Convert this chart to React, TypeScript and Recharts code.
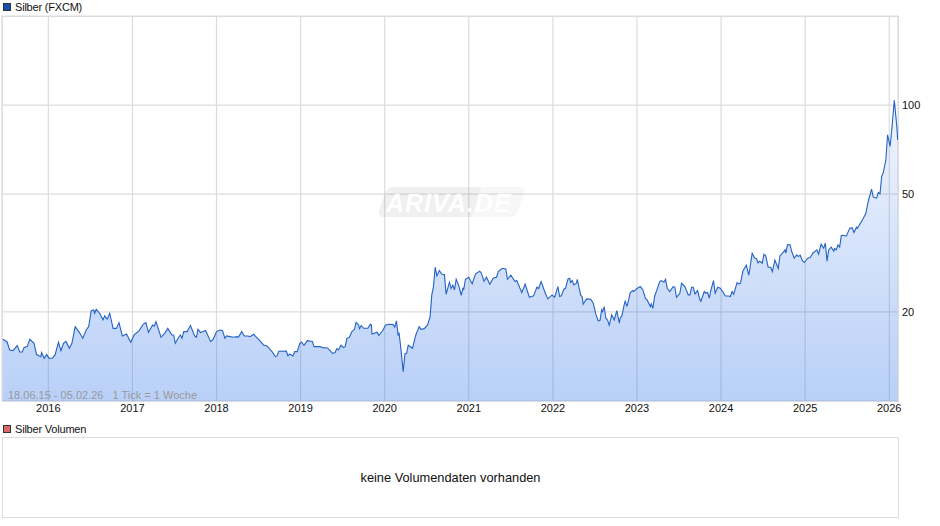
import React from 'react';
import { AreaChart, Area, XAxis, YAxis, CartesianGrid } from 'recharts';

// readings of the weekly line, as decimal years and prices
const yearsEarly = [
  2015.46, 2015.51, 2015.54, 2015.58, 2015.63, 2015.66, 2015.69, 2015.71, 2015.75, 2015.78,
  2015.83, 2015.86, 2015.91, 2015.92, 2015.95, 2015.98, 2016.01, 2016.05, 2016.08, 2016.12,
  2016.15, 2016.18, 2016.21, 2016.25, 2016.28, 2016.32, 2016.37, 2016.41, 2016.45, 2016.48,
  2016.51, 2016.54, 2016.55, 2016.57, 2016.61, 2016.65, 2016.67, 2016.7, 2016.73, 2016.77,
  2016.81, 2016.84, 2016.88, 2016.93, 2016.98, 2017.02, 2017.08, 2017.13, 2017.16, 2017.19,
  2017.24, 2017.26, 2017.28, 2017.34, 2017.39, 2017.42, 2017.47, 2017.49, 2017.51, 2017.55,
  2017.57, 2017.59, 2017.61, 2017.65, 2017.69, 2017.74, 2017.76, 2017.78, 2017.81, 2017.84,
  2017.87, 2017.93, 2017.96, 2018.0, 2018.04, 2018.07, 2018.1, 2018.12, 2018.16, 2018.2,
  2018.24, 2018.26, 2018.3, 2018.33, 2018.37, 2018.4, 2018.44, 2018.5, 2018.56, 2018.6,
  2018.66, 2018.7, 2018.72, 2018.74, 2018.83, 2018.85, 2018.87, 2018.91, 2018.93, 2018.96,
  2018.99, 2019.01, 2019.04, 2019.08, 2019.14, 2019.16,
];
const pricesEarly = [
  16.16, 15.83, 14.88, 14.8, 15.39, 14.65, 14.65, 15.15, 15.3, 16.16,
  15.67, 14.35, 14.12, 14.57, 13.94, 14.35, 13.94, 13.98, 14.31, 15.79,
  14.8, 15.67, 15.9, 15.07, 15.67, 17.84, 17.03, 16.29, 17.38, 17.84,
  20.2, 20.3, 19.8, 20.4, 19.8, 18.8, 19.4, 18.9, 19.8, 17.6,
  17.6, 18.4, 16.59, 16.85, 15.79, 16.72, 17.3, 18.2, 18.4, 17.07,
  18.07, 17.9, 18.55, 16.42, 17.03, 17.6, 16.72, 16.72, 15.67, 16.42,
  16.72, 16.29, 17.16, 17.16, 17.98, 16.59, 16.42, 17.47, 17.03, 17.16,
  17.3, 15.87, 16.16, 17.16, 17.38, 17.3, 16.29, 16.59, 16.5, 16.42,
  16.5, 16.42, 17.16, 16.59, 16.59, 16.5, 16.8, 16.16, 15.47, 15.35,
  14.68, 14.12, 14.2, 14.72, 14.76, 14.2, 14.42, 14.2, 14.68, 14.68,
  15.67, 15.83, 15.43, 16.0, 15.9, 15.27,
];

const yearsMiddle = [
  2019.23, 2019.26, 2019.32, 2019.38, 2019.41, 2019.43, 2019.45, 2019.48, 2019.51, 2019.53,
  2019.55, 2019.58, 2019.61, 2019.64, 2019.66, 2019.69, 2019.7, 2019.72, 2019.75, 2019.8,
  2019.83, 2019.84, 2019.85, 2019.91, 2019.93, 2019.98, 2020.01, 2020.06, 2020.1, 2020.12,
  2020.14, 2020.16, 2020.17, 2020.19, 2020.22, 2020.24, 2020.26, 2020.28, 2020.33, 2020.37,
  2020.41, 2020.43, 2020.47, 2020.51, 2020.54, 2020.56, 2020.58, 2020.6, 2020.62, 2020.65,
  2020.68, 2020.71, 2020.73, 2020.77, 2020.79, 2020.81, 2020.83, 2020.85, 2020.88, 2020.91,
  2020.93, 2020.94, 2020.96, 2021.0, 2021.04, 2021.08, 2021.13, 2021.15, 2021.18, 2021.21,
  2021.25, 2021.29, 2021.33, 2021.35, 2021.4, 2021.44, 2021.46, 2021.5, 2021.55, 2021.57,
  2021.63, 2021.67, 2021.72, 2021.77, 2021.81, 2021.83, 2021.86, 2021.91, 2021.94, 2021.99,
  2022.02, 2022.06, 2022.08, 2022.1, 2022.13, 2022.15, 2022.18, 2022.2, 2022.21, 2022.23,
  2022.25, 2022.28, 2022.29, 2022.33, 2022.35, 2022.36, 2022.4, 2022.45, 2022.48, 2022.51,
  2022.54, 2022.56, 2022.58, 2022.59, 2022.61, 2022.63, 2022.65, 2022.67, 2022.7, 2022.73,
  2022.76, 2022.79,
];
const pricesMiddle = [
  15.27, 15.15, 15.11, 14.49, 14.57, 15.03, 14.88, 15.43, 15.15, 15.27,
  16.29, 16.42, 17.16, 17.47, 18.45, 18.07, 17.56, 17.98, 17.61, 17.61,
  18.17, 18.12, 16.85, 17.07, 16.64, 17.38, 18.07, 18.17, 18.12, 17.75,
  18.65, 16.64, 17.03, 15.27, 12.57, 14.42, 14.49, 15.43, 15.07, 16.72,
  17.84, 17.47, 17.56, 18.07, 19.29, 22.83, 24.36, 28.32, 26.47, 27.59,
  26.82, 26.75, 22.95, 25.2, 23.99, 24.62, 23.74, 25.79, 24.55, 22.77,
  24.04, 23.87, 25.79, 26.2, 24.87, 26.89, 27.45, 27.03, 25.4, 26.2,
  24.81, 25.99, 26.2, 27.38, 28.1, 27.95, 25.79, 26.6, 25.33, 25.53,
  23.25, 24.81, 22.42, 22.66, 24.24, 23.99, 25.33, 23.13, 22.13, 22.83,
  22.42, 24.36, 22.54, 22.66, 23.87, 24.04, 25.86, 25.99, 25.13, 25.53,
  24.68, 25.0, 25.79, 22.83, 22.42, 21.23, 22.13, 22.07, 21.4, 19.69,
  18.65, 18.7, 20.32, 20.05, 20.85, 19.04, 18.79, 18.02, 19.54, 18.79,
  20.21, 18.31,
];

const yearsLate = [
  2022.8, 2022.82, 2022.85, 2022.86, 2022.88, 2022.89, 2022.92, 2022.95, 2022.96, 2023.0,
  2023.04, 2023.07, 2023.1, 2023.12, 2023.16, 2023.17, 2023.19, 2023.21, 2023.23, 2023.27,
  2023.29, 2023.32, 2023.34, 2023.36, 2023.39, 2023.43, 2023.45, 2023.47, 2023.51, 2023.53,
  2023.57, 2023.61, 2023.63, 2023.65, 2023.67, 2023.69, 2023.72, 2023.75, 2023.76, 2023.8,
  2023.82, 2023.84, 2023.86, 2023.88, 2023.91, 2023.93, 2023.96, 2023.99, 2024.02, 2024.05,
  2024.09, 2024.11, 2024.13, 2024.15, 2024.19, 2024.21, 2024.23, 2024.26, 2024.3, 2024.33,
  2024.37, 2024.4, 2024.42, 2024.44, 2024.46, 2024.49, 2024.51, 2024.53, 2024.56, 2024.59,
  2024.61, 2024.64, 2024.68, 2024.7, 2024.74, 2024.76, 2024.77, 2024.79, 2024.82, 2024.84,
  2024.87, 2024.9, 2024.92, 2024.94, 2024.97, 2024.99, 2025.03, 2025.06, 2025.09, 2025.14,
  2025.16, 2025.19, 2025.22, 2025.24, 2025.26, 2025.28, 2025.31, 2025.34, 2025.35, 2025.37,
  2025.39, 2025.41, 2025.43, 2025.45, 2025.49, 2025.53, 2025.56, 2025.58, 2025.61, 2025.62,
  2025.67, 2025.72, 2025.75, 2025.79, 2025.81, 2025.85, 2025.87, 2025.89, 2025.91, 2025.93,
  2025.96, 2025.98, 2026.01, 2026.03, 2026.06, 2026.09, 2026.1,
];
const pricesLate = [
  19.04, 19.39, 21.29, 21.73, 20.96, 21.29, 23.25, 23.61, 23.43, 23.99,
  24.36, 23.74, 22.25, 21.96, 20.85, 21.29, 20.58, 22.65, 23.43, 25.33,
  25.53, 25.2, 25.79, 24.05, 23.43, 24.36, 24.23, 22.42, 23.13, 25.0,
  24.36, 22.83, 22.83, 24.23, 24.23, 23.0, 23.61, 21.96, 21.73, 23.43,
  23.13, 23.31, 22.25, 23.74, 25.53, 23.13, 24.23, 24.05, 23.43, 22.65,
  22.65, 22.54, 23.43, 22.95, 25.13, 24.87, 25.0, 27.52, 28.77, 26.61,
  31.58, 30.38, 30.38, 29.29, 29.67, 29.22, 31.34, 31.02, 28.32, 28.32,
  27.38, 29.91, 28.03, 30.93, 31.83, 32.41, 31.58, 33.79, 33.7, 32.0,
  30.38, 31.18, 30.77, 31.1, 29.75, 29.37, 30.38, 30.53, 31.58, 32.41,
  31.34, 33.88, 32.84, 34.14, 29.67, 32.41, 33.1, 32.08, 32.75, 32.41,
  33.7, 33.1, 36.24, 36.33, 36.05, 38.38, 38.47, 37.1, 38.67, 38.27,
  40.42, 42.9, 47.23, 51.98, 48.85, 48.47, 50.66, 50.14, 57.37, 59.2,
  65.33, 79.37, 72.5, 82.5, 103.7, 84.7, 76.3,
];

const yearTicks = [2016, 2017, 2018, 2019, 2020, 2021, 2022, 2023, 2024, 2025, 2026];
const priceTicks = [20, 50, 100];

const years = [...yearsEarly, ...yearsMiddle, ...yearsLate];
const prices = [...pricesEarly, ...pricesMiddle, ...pricesLate];
const chartData = years.map((year, i) => ({ year, price: prices[i] }));

const FONT = '"Liberation Sans", Arial, sans-serif';
const GRID = '#dcdcdc';

function LegendRow({ top, color, label }: { top: number; color: string; label: string }) {
  return (
    <>
      <div
        style={{
          position: 'absolute',
          left: 3,
          top: top + 1,
          width: 6,
          height: 6,
          background: color,
          border: '1px solid #333',
        }}
      />
      <div
        style={{
          position: 'absolute',
          left: 15,
          top: top - 2,
          fontSize: 11,
          lineHeight: '14px',
          letterSpacing: -0.2,
          color: '#111',
        }}
      >
        {label}
      </div>
    </>
  );
}

export default function App() {
  return (
    <div
      style={{
        position: 'absolute',
        left: 0,
        top: 0,
        width: 940,
        height: 526,
        overflow: 'hidden',
        background: '#fff',
        fontFamily: FONT,
      }}
    >
      <LegendRow top={2} color="#174fb0" label="Silber (FXCM)" />

      <div
        style={{
          position: 'absolute',
          left: 2,
          top: 16,
          width: 895,
          height: 384,
          border: `1px solid ${GRID}`,
        }}
      />

      <div style={{ position: 'absolute', left: 0, top: 0 }}>
        <AreaChart width={940} height={420} data={chartData} margin={{ top: 16, right: 0, bottom: 0, left: 2 }}>
          <defs>
            <linearGradient id="silberFill" x1="0" y1="0" x2="0" y2="1">
              <stop offset="0%" stopColor="#2a6fe8" stopOpacity={0.07} />
              <stop offset="100%" stopColor="#2a6fe8" stopOpacity={0.33} />
            </linearGradient>
          </defs>
          <CartesianGrid stroke={GRID} strokeWidth={1.2} />
          <XAxis
            dataKey="year"
            type="number"
            domain={[2015.449, 2026.104]}
            ticks={yearTicks}
            height={19}
            axisLine={false}
            tickLine={false}
            tickSize={0}
            tickMargin={3}
            allowDataOverflow
            tick={{ fill: '#111', fontSize: 11, fontFamily: FONT }}
          />
          <YAxis
            orientation="right"
            scale="log"
            domain={[10, 200]}
            ticks={priceTicks}
            width={42}
            axisLine={false}
            tickLine={false}
            tickSize={0}
            tickMargin={4}
            allowDataOverflow
            tick={{ fill: '#111', fontSize: 11, fontFamily: FONT }}
          />
          <Area
            type="linear"
            dataKey="price"
            stroke="#2462c4"
            strokeWidth={1.1}
            fill="url(#silberFill)"
            fillOpacity={1}
            isAnimationActive={false}
            dot={false}
            activeDot={false}
          />
        </AreaChart>
      </div>

      {/* watermark */}
      <div
        style={{
          position: 'absolute',
          left: 382,
          top: 187,
          width: 139,
          height: 30,
          borderRadius: 6,
          transform: 'skewX(-18deg)',
          background: 'linear-gradient(90deg, rgba(0,0,0,0.06) 0%, rgba(0,0,0,0.06) 68%, rgba(0,0,0,0.03) 68%, rgba(0,0,0,0.03) 100%)',
        }}
      />
      <div
        style={{
          position: 'absolute',
          left: 386,
          top: 188,
          fontSize: 25,
          lineHeight: '30px',
          fontWeight: 'bold',
          fontStyle: 'italic',
          color: '#fff',
          letterSpacing: 1,
        }}
      >
        ARIVA.DE
      </div>

      <div
        style={{
          position: 'absolute',
          left: 8,
          top: 388,
          fontSize: 11,
          lineHeight: '14px',
          color: '#999',
          whiteSpace: 'pre',
        }}
      >
        {'18.06.15 - 05.02.26   1 Tick = 1 Woche'}
      </div>

      <LegendRow top={424} color="#d9696a" label="Silber Volumen" />

      <div
        style={{
          position: 'absolute',
          left: 2,
          top: 437,
          width: 895,
          height: 79,
          border: `1px solid ${GRID}`,
          textAlign: 'center',
          lineHeight: '79px',
          fontSize: 12.8,
          color: '#111',
        }}
      >
        keine Volumendaten vorhanden
      </div>
    </div>
  );
}
